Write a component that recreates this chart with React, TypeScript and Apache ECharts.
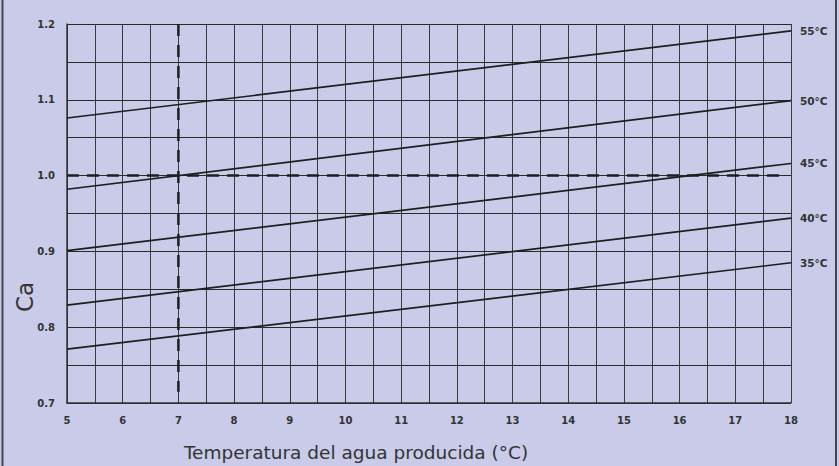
import React, { useEffect, useRef } from "react";
import * as echarts from "echarts";

const xRange = [5, 18];
const seriesNames = ["55°C", "50°C", "45°C", "40°C", "35°C"];
const startValues = [1.076, 0.982, 0.901, 0.829, 0.771];
const endValues = [1.191, 1.099, 1.016, 0.944, 0.885];
const refX = 7;
const refY = 1.0;
const refXSpan = [1.2, 0.715];
const refYSpan = [5, 17.9];
const xAxisTitle = "Temperatura del agua producida (°C)";
const yAxisTitle = "Ca";

export default function App() {
  const ref = useRef<HTMLDivElement>(null);
  useEffect(() => {
    if (!ref.current) return;
    const chart = echarts.init(ref.current, null, { renderer: "svg" });
    const textColor = "#333";
    const font = "DejaVu Sans";
    const lineSeries = seriesNames.map((name, i) => ({
      type: "line",
      name,
      data: [
        [xRange[0], startValues[i]],
        [xRange[1], endValues[i]],
      ],
      symbol: "none",
      lineStyle: { color: "#1e1e1e", width: 1.7 },
      endLabel: {
        show: true,
        formatter: name,
        distance: 9,
        color: textColor,
        fontFamily: font,
        fontWeight: "bold",
        fontSize: 10.5,
      },
      z: 3,
    }));
    chart.setOption({
      animation: false,
      backgroundColor: "#c9cbe9",
      grid: { left: 67, right: 48, top: 24, bottom: 63, outerBoundsMode: "none", containLabel: false },
      xAxis: {
        type: "value",
        min: 5,
        max: 18,
        interval: 1,
        axisLine: { show: true, lineStyle: { color: "#333", width: 1.5 } },
        axisTick: { show: false },
        axisLabel: {
          color: textColor,
          fontFamily: font,
          fontWeight: "bold",
          fontSize: 10,
          margin: 12,
        },
        splitLine: { show: true, lineStyle: { color: "#3a3a3a", width: 1 } },
        minorTick: { show: false, splitNumber: 2 },
        minorSplitLine: { show: true, lineStyle: { color: "#3a3a3a", width: 1 } },
      },
      yAxis: {
        type: "value",
        min: 0.7,
        max: 1.2,
        interval: 0.1,
        axisLine: { show: true, lineStyle: { color: "#333", width: 1.5 } },
        axisTick: { show: false },
        axisLabel: {
          color: textColor,
          fontFamily: font,
          fontWeight: "bold",
          fontSize: 10,
          margin: 12,
          formatter: (v: number) => v.toFixed(1),
        },
        splitLine: { show: true, lineStyle: { color: "#2a2a2a", width: 1 } },
        minorTick: { show: false, splitNumber: 2 },
        minorSplitLine: { show: true, lineStyle: { color: "#2a2a2a", width: 1 } },
      },
      series: [
        ...lineSeries,
        {
          type: "line",
          name: "refX",
          data: [
            [refX, refXSpan[0]],
            [refX, refXSpan[1]],
          ],
          symbol: "none",
          lineStyle: { color: "#1e1e1e", width: 2.5, type: [12, 9] },
          z: 4,
        },
        {
          type: "line",
          name: "refY",
          data: [
            [refYSpan[0], refY],
            [refYSpan[1], refY],
          ],
          symbol: "none",
          lineStyle: { color: "#1e1e1e", width: 2.5, type: [12, 8] },
          z: 4,
        },
      ],
      graphic: [
        {
          type: "line",
          shape: { x1: 2.5, y1: 0, x2: 2.5, y2: 466 },
          style: { stroke: "#45454f", lineWidth: 2 },
        },
        {
          type: "line",
          shape: { x1: 836, y1: 0, x2: 836, y2: 466 },
          style: { stroke: "#45454f", lineWidth: 2 },
        },
        {
          type: "text",
          x: 25,
          y: 297,
          rotation: Math.PI / 2,
          style: {
            text: yAxisTitle,
            fill: "#333",
            fontFamily: font,
            fontWeight: "normal",
            fontSize: 23,
            align: "center",
            verticalAlign: "middle",
          },
        },
        {
          type: "text",
          x: 356,
          y: 452,
          style: {
            text: xAxisTitle,
            fill: "#333",
            fontFamily: font,
            fontWeight: "normal",
            fontSize: 18.5,
            align: "center",
            verticalAlign: "middle",
          },
        },
      ],
    });
    return () => chart.dispose();
  }, []);
  return (
    <div
      ref={ref}
      style={{ position: "fixed", left: 0, top: 0, width: 839, height: 466 }}
    />
  );
}
